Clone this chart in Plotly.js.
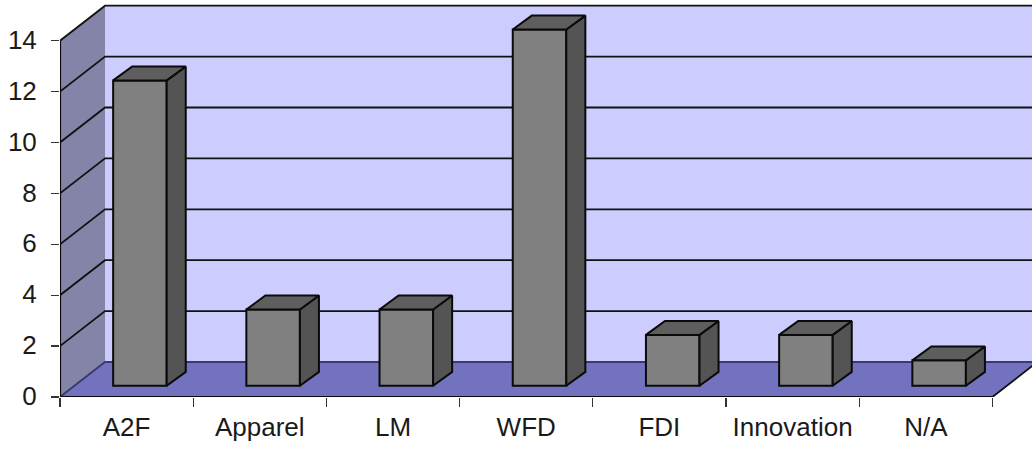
<!DOCTYPE html>
<html>
<head>
<meta charset="utf-8">
<script src="https://cdn.plot.ly/plotly-3.0.1.min.js"></script>
<style>html,body{margin:0;padding:0;background:#fff;overflow:hidden}</style>
</head>
<body>
<div id="chart" style="width:1032px;height:449px"></div>
<script>
// Counts per category
const categories = ['A2F', 'Apparel', 'LM', 'WFD', 'FDI', 'Innovation', 'N/A'];
const counts = [12, 3, 3, 14, 2, 2, 1];
const valueTicks = [0, 2, 4, 6, 8, 10, 12, 14];

// Extruded-look parameters, in axis units
const wallDepthX = 0.338, wallDepthY = 1.375;   // how far the back wall sits behind the front plane
const barInsetX = 0.6, barInsetY = 0.44;        // centre of a bar's front face within its slot, lift off the axis
const barWidth = 0.402;
const barDepthX = 0.143, barDepthY = 0.546;     // extrusion of each bar

const slots = categories.length;
const topValue = valueTicks[valueTicks.length - 1];
const centers = categories.map((_, i) => i + 0.5);

function polygonPath(points) {
  return 'M' + points.map(p => p.join(',')).join('L') + 'Z';
}
function areaShape(points, color) {
  return {type: 'path', xref: 'x', yref: 'y', layer: 'below', path: polygonPath(points),
          fillcolor: color, line: {width: 0}};
}
function edgeShape(points, color, width) {
  return {type: 'path', xref: 'x', yref: 'y', layer: 'below',
          path: 'M' + points.map(p => p.join(',')).join('L'),
          line: {color: color, width: width}};
}

// Back wall, side wall, floor
const shapes = [
  areaShape([[wallDepthX, wallDepthY], [slots + wallDepthX, wallDepthY],
             [slots + wallDepthX, topValue + wallDepthY], [wallDepthX, topValue + wallDepthY]], '#CCCCFF'),
  areaShape([[0, 0], [wallDepthX, wallDepthY], [wallDepthX, topValue + wallDepthY], [0, topValue]], '#8484A8'),
  areaShape([[0, 0], [slots, 0], [slots + wallDepthX, wallDepthY], [wallDepthX, wallDepthY]], '#7272BE')
];
// Gridlines wrap from the side wall onto the back wall
valueTicks.forEach(v => {
  shapes.push(edgeShape([[0, v], [wallDepthX, v + wallDepthY], [slots + wallDepthX, v + wallDepthY]],
                        v === 0 ? '#3a3a70' : '#111111', 1.8));
});
shapes.push(edgeShape([[slots, 0], [slots + wallDepthX, wallDepthY]], '#111111', 1.8));

// Side and top faces of the bars, derived from the counts
const sideX = [], sideY = [], topX = [], topY = [];
counts.forEach((v, i) => {
  const left = i + barInsetX - barWidth / 2, right = left + barWidth;
  const low = barInsetY, high = barInsetY + v;
  sideX.push(right, right + barDepthX, right + barDepthX, right, right, null);
  sideY.push(low, low + barDepthY, high + barDepthY, high, low, null);
  topX.push(left, left + barDepthX, right + barDepthX, right, left, null);
  topY.push(high, high + barDepthY, high + barDepthY, high, high, null);
});

const faceLine = {color: '#0a0a0a', width: 2};
const traces = [
  {type: 'bar', x: centers.map(c => c + barInsetX - 0.5), y: counts,
   base: counts.map(() => barInsetY), width: barWidth,
   marker: {color: '#808080', line: {color: '#0a0a0a', width: 2}}, hoverinfo: 'skip'},
  {type: 'scatter', mode: 'lines', x: sideX, y: sideY, fill: 'toself', fillcolor: '#545454',
   line: faceLine, hoverinfo: 'skip', cliponaxis: false},
  {type: 'scatter', mode: 'lines', x: topX, y: topY, fill: 'toself', fillcolor: '#5e5e5e',
   line: faceLine, hoverinfo: 'skip', cliponaxis: false},
  // Front axis lines, stopping where the floor and side wall end
  {type: 'scatter', mode: 'lines', x: [0, 0, slots], y: [topValue, 0, 0],
   line: {color: '#0a0a0a', width: 2.2}, hoverinfo: 'skip', cliponaxis: false}
];

const labelFont = {family: 'Liberation Sans, Arial, sans-serif', size: 26, color: '#1a1a1a'};
const layout = {
  width: 1032, height: 449,
  margin: {l: 60, r: 0, t: 0, b: 52, pad: 0},
  paper_bgcolor: '#ffffff', plot_bgcolor: '#ffffff',
  showlegend: false,
  barmode: 'overlay',
  shapes: shapes,
  xaxis: {
    type: 'linear', range: [0, 972 / 133.2], showgrid: false, zeroline: false, showline: false,
    tickmode: 'array', tickvals: centers, ticktext: categories, ticks: '', tickfont: labelFont,
    ticklabelstandoff: 12,
    minor: {tickmode: 'array', tickvals: categories.concat('').map((_, i) => i),
            ticks: 'outside', ticklen: 9, tickwidth: 1.4, tickcolor: '#333333', showgrid: false}
  },
  yaxis: {
    range: [0, 397 / 25.45], showgrid: false, zeroline: false, showline: false,
    tickmode: 'array', tickvals: valueTicks, ticktext: valueTicks.map(String),
    ticks: 'outside', ticklen: 8, tickwidth: 1.4, tickcolor: '#333333', tickfont: labelFont,
    ticklabelstandoff: 9, ticklabelshift: -1
  }
};

Plotly.newPlot('chart', traces, layout, {displayModeBar: false, staticPlot: true});
</script>
</body>
</html>
